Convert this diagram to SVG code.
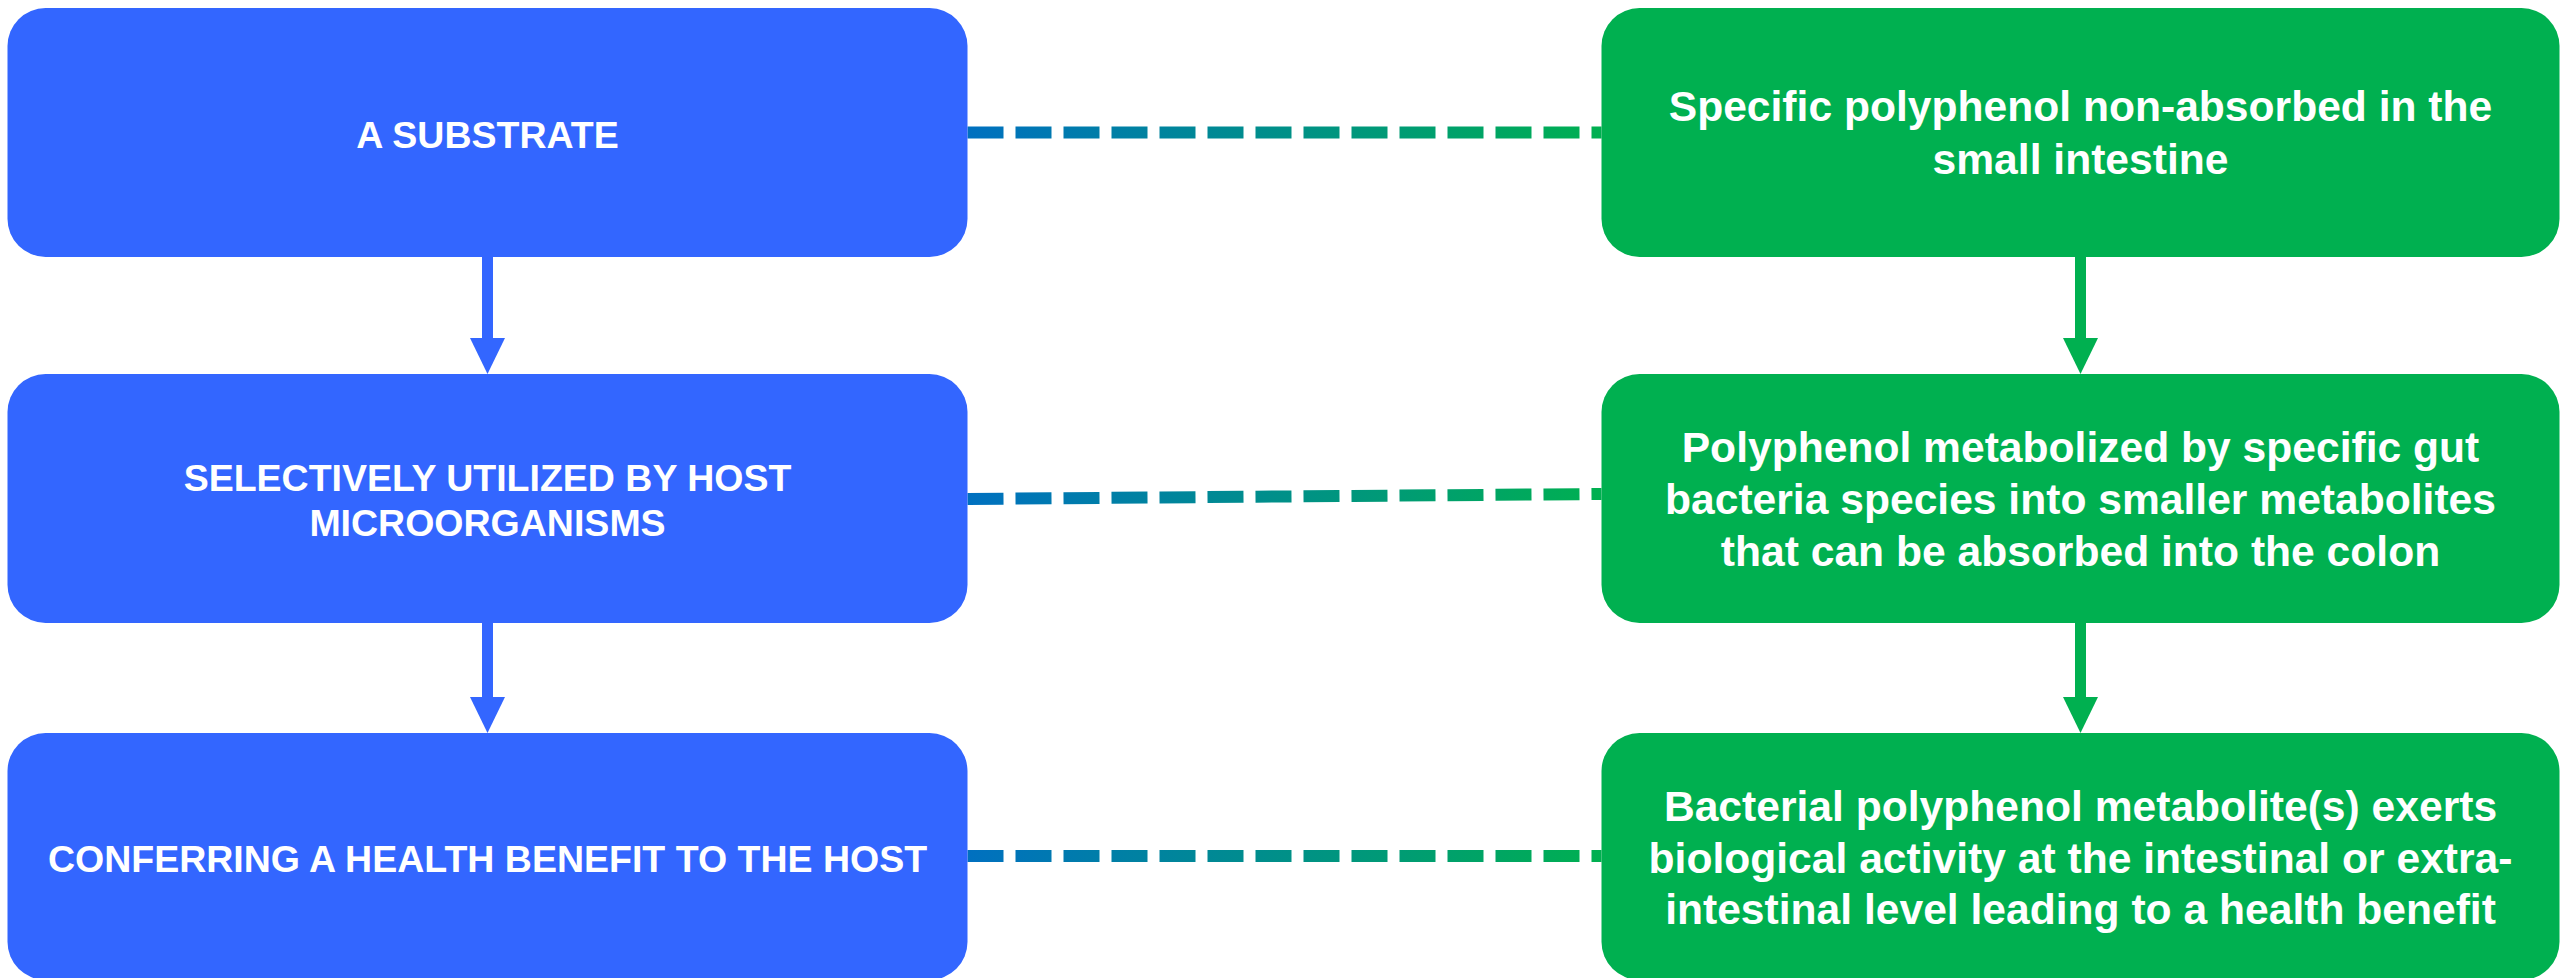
<svg xmlns="http://www.w3.org/2000/svg" width="2560" height="978" viewBox="0 0 2560 978">
<defs>
<style>
.blue{fill:#3366FF}
.green{fill:#00B050}
.lt{font-family:"Liberation Sans",Arial,sans-serif;font-weight:bold;font-size:37.5px;fill:#FFFFFF;text-anchor:middle}
.rt{font-family:"Liberation Sans",Arial,sans-serif;font-weight:bold;font-size:42.6px;fill:#FFFFFF;text-anchor:middle}
.dash{fill:none;stroke-width:12;stroke-dasharray:36 12}
</style>
<linearGradient id="g1" gradientUnits="userSpaceOnUse" x1="967" y1="0" x2="1602" y2="0">
<stop offset="0" stop-color="#0070C0"/>
<stop offset="1" stop-color="#00B050"/>
</linearGradient>
</defs>
<rect width="2560" height="978" fill="#FFFFFF"/>
<g id="connectors">
<path class="dash" stroke="url(#g1)" d="M967.5,132.5 H1601.5"/>
<path class="dash" stroke="url(#g1)" d="M967.5,499 L1601.5,494"/>
<path class="dash" stroke="url(#g1)" d="M967.5,856 H1601.5"/>
<rect class="blue" x="482" y="256" width="11" height="83"/>
<polygon class="blue" points="470,338 505,338 487.5,374"/>
<rect class="blue" x="482" y="622" width="11" height="76"/>
<polygon class="blue" points="470,697 505,697 487.5,733"/>
<rect class="green" x="2075" y="256" width="11" height="83"/>
<polygon class="green" points="2063,338 2098,338 2080.5,374"/>
<rect class="green" x="2075" y="622" width="11" height="76"/>
<polygon class="green" points="2063,697 2098,697 2080.5,733"/>
</g>
<g id="node-l1">
<rect class="blue" x="7.5" y="8" width="960" height="249" rx="38" ry="38"/>
<text class="lt" x="487.5" y="148">A SUBSTRATE</text>
</g>
<g id="node-l2">
<rect class="blue" x="7.5" y="374" width="960" height="249" rx="38" ry="38"/>
<text class="lt" x="487.5" y="491">SELECTIVELY UTILIZED BY HOST</text>
<text class="lt" x="487.5" y="536">MICROORGANISMS</text>
</g>
<g id="node-l3">
<rect class="blue" x="7.5" y="733" width="960" height="247" rx="38" ry="38"/>
<text class="lt" x="487.5" y="872">CONFERRING A HEALTH BENEFIT TO THE HOST</text>
</g>
<g id="node-r1">
<rect class="green" x="1601.5" y="8" width="958" height="249" rx="38" ry="38"/>
<text class="rt" x="2080.5" y="121">Specific polyphenol non-absorbed in the</text>
<text class="rt" x="2080.5" y="174">small intestine</text>
</g>
<g id="node-r2">
<rect class="green" x="1601.5" y="374" width="958" height="249" rx="38" ry="38"/>
<text class="rt" x="2080.5" y="462">Polyphenol metabolized by specific gut</text>
<text class="rt" x="2080.5" y="514">bacteria species into smaller metabolites</text>
<text class="rt" x="2080.5" y="566">that can be absorbed into the colon</text>
</g>
<g id="node-r3">
<rect class="green" x="1601.5" y="733" width="958" height="247" rx="38" ry="38"/>
<text class="rt" x="2080.5" y="821">Bacterial polyphenol metabolite(s) exerts</text>
<text class="rt" x="2080.5" y="873">biological activity at the intestinal or extra-</text>
<text class="rt" x="2080.5" y="924">intestinal level leading to a health benefit</text>
</g>
</svg>
